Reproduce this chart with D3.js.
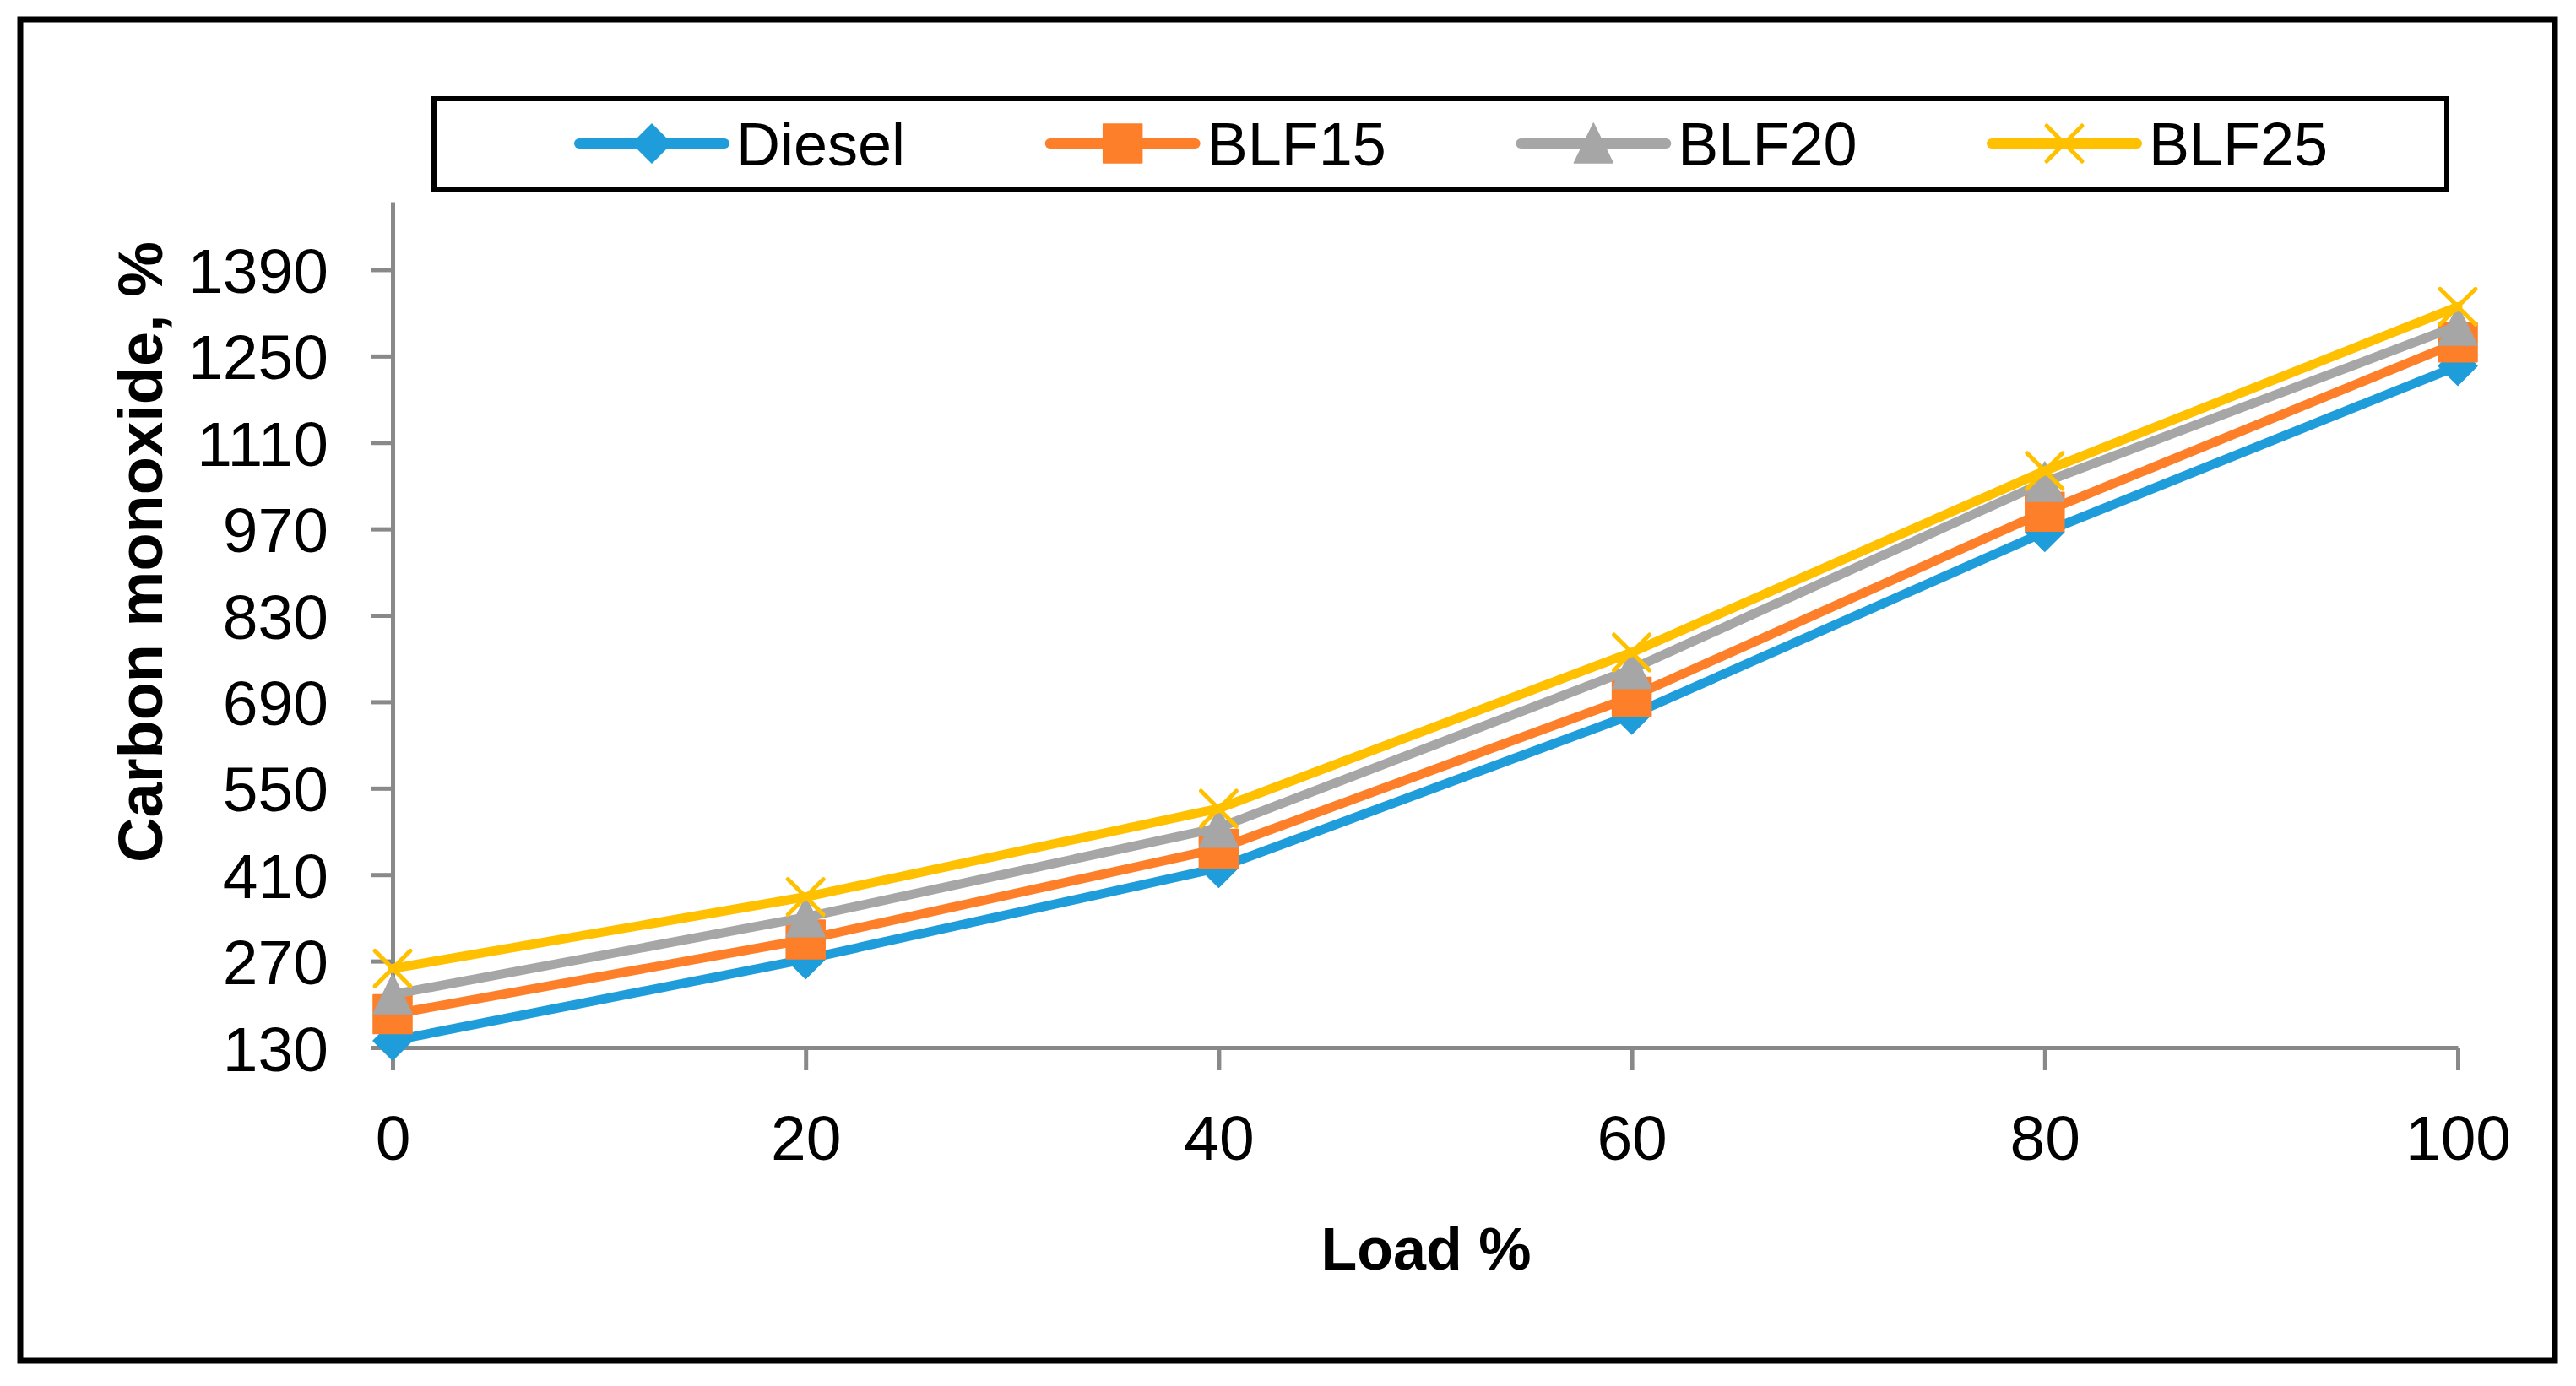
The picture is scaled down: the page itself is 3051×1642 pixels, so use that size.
<!DOCTYPE html>
<html>
<head>
<meta charset="utf-8">
<script src="https://cdn.jsdelivr.net/npm/d3@7"></script>
<style>
  html, body { margin: 0; padding: 0; background: #ffffff; }
  svg { display: block; }
</style>
</head>
<body>
<div id="chart"></div>
<script>
// ---- data ----
const loads = [0, 20, 40, 60, 80, 100];
const seriesNames = ["Diesel", "BLF15", "BLF20", "BLF25"];
const diesel = [141, 273, 421, 669, 965, 1234];
const blf15  = [184, 305, 452, 698, 998, 1272];
const blf20  = [216, 341, 486, 743, 1046, 1299];
const blf25  = [258, 374, 517, 770, 1064, 1330];
const yTicks = [130, 270, 410, 550, 690, 830, 970, 1110, 1250, 1390];
const xTicks = [0, 20, 40, 60, 80, 100];
const xTitle = "Load %";
const yTitle = "Carbon monoxide, %";

const colors = ["#1E9DDA", "#FE7F29", "#A6A6A6", "#FFC000"];
const markerKinds = ["diamond", "square", "triangle", "x"];
const seriesValues = [diesel, blf15, blf20, blf25];

const W = 3051, H = 1642;
const svg = d3.select("#chart").append("svg")
  .attr("width", W).attr("height", H)
  .attr("viewBox", `0 0 ${W} ${H}`);

svg.append("rect").attr("x", 0).attr("y", 0).attr("width", W).attr("height", H).attr("fill", "#fff");
// outer frame
svg.append("rect").attr("x", 24).attr("y", 23).attr("width", 3002).attr("height", 1589)
  .attr("fill", "none").attr("stroke", "#000").attr("stroke-width", 7);

const x = d3.scaleLinear().domain([0, 100]).range([465, 2911]);
const y = d3.scaleLinear().domain([130, 1500]).range([1241, 239]);

const FONT = "'Liberation Sans', Arial, sans-serif";
const axisColor = "#898989";

// y axis
const gy = svg.append("g").attr("transform", `translate(${x(0)},0)`)
  .call(d3.axisLeft(y).tickValues(yTicks).tickSize(26).tickSizeOuter(0).tickPadding(50).tickFormat(d3.format("d")));
// x axis
const gx = svg.append("g").attr("transform", `translate(0,${y(130)})`)
  .call(d3.axisBottom(x).tickValues(xTicks).tickSize(27).tickSizeOuter(0).tickPadding(53).tickFormat(d3.format("d")));

[gx, gy].forEach(g => {
  g.select(".domain").attr("stroke", axisColor).attr("stroke-width", 5);
  g.selectAll(".tick line").attr("stroke", axisColor).attr("stroke-width", 5);
  g.selectAll(".tick text").attr("fill", "#000").attr("font-family", FONT).attr("font-size", 75);
});
gy.selectAll(".tick text").attr("dy", "0.36em");

// axis titles
svg.append("text").attr("x", 1689).attr("y", 1504)
  .attr("text-anchor", "middle").attr("font-family", FONT).attr("font-weight", "bold")
  .attr("font-size", 70).attr("fill", "#000").text(xTitle);
svg.append("text").attr("transform", `translate(192,654) rotate(-90)`)
  .attr("text-anchor", "middle").attr("font-family", FONT).attr("font-weight", "bold")
  .attr("font-size", 74).attr("fill", "#000").text(yTitle);

// marker shapes
const M = 23;
function markerPath(kind) {
  const p = d3.path();
  if (kind === "diamond") {
    p.moveTo(0, -M); p.lineTo(M, 0); p.lineTo(0, M); p.lineTo(-M, 0); p.closePath();
  } else if (kind === "square") {
    p.rect(-M, -M, 2 * M, 2 * M);
  } else if (kind === "triangle") {
    p.moveTo(0, -M - 1); p.lineTo(M, M); p.lineTo(-M, M); p.closePath();
  } else {
    const r = 21;
    p.moveTo(-r, -r); p.lineTo(r, r); p.moveTo(r, -r); p.lineTo(-r, r);
  }
  return p.toString();
}
function drawMarker(g, kind, color, cx, cy) {
  const el = g.append("path").attr("d", markerPath(kind))
    .attr("transform", `translate(${cx},${cy})`);
  if (kind === "x") {
    el.attr("fill", "none").attr("stroke", color).attr("stroke-width", 5).attr("stroke-linecap", "round");
  } else {
    el.attr("fill", color).attr("stroke", color).attr("stroke-width", 1.5).attr("stroke-linejoin", "round");
  }
}

const line = d3.line().x((d, i) => x(loads[i])).y(d => y(d));

seriesValues.forEach((vals, si) => {
  const g = svg.append("g");
  g.append("path").datum(vals).attr("d", line)
    .attr("fill", "none").attr("stroke", colors[si]).attr("stroke-width", 11)
    .attr("stroke-linecap", "round").attr("stroke-linejoin", "round");
  vals.forEach((v, i) => drawMarker(g, markerKinds[si], colors[si], x(loads[i]), y(v)));
});

// legend
svg.append("rect").attr("x", 514).attr("y", 117).attr("width", 2384).attr("height", 107)
  .attr("fill", "#fff").attr("stroke", "#000").attr("stroke-width", 6);
const legendX = d3.scalePoint().domain(seriesNames).range([772, 2445]);
seriesNames.forEach((name, si) => {
  const cx = legendX(name), cy = 170;
  const g = svg.append("g");
  g.append("line").attr("x1", cx - 86).attr("x2", cx + 86).attr("y1", cy).attr("y2", cy)
    .attr("stroke", colors[si]).attr("stroke-width", 12).attr("stroke-linecap", "round");
  drawMarker(g, markerKinds[si], colors[si], cx, cy);
  g.append("text").attr("x", cx + 100).attr("y", cy + 26)
    .attr("font-family", FONT).attr("font-size", 72).attr("fill", "#000").text(name);
});
</script>
</body>
</html>
